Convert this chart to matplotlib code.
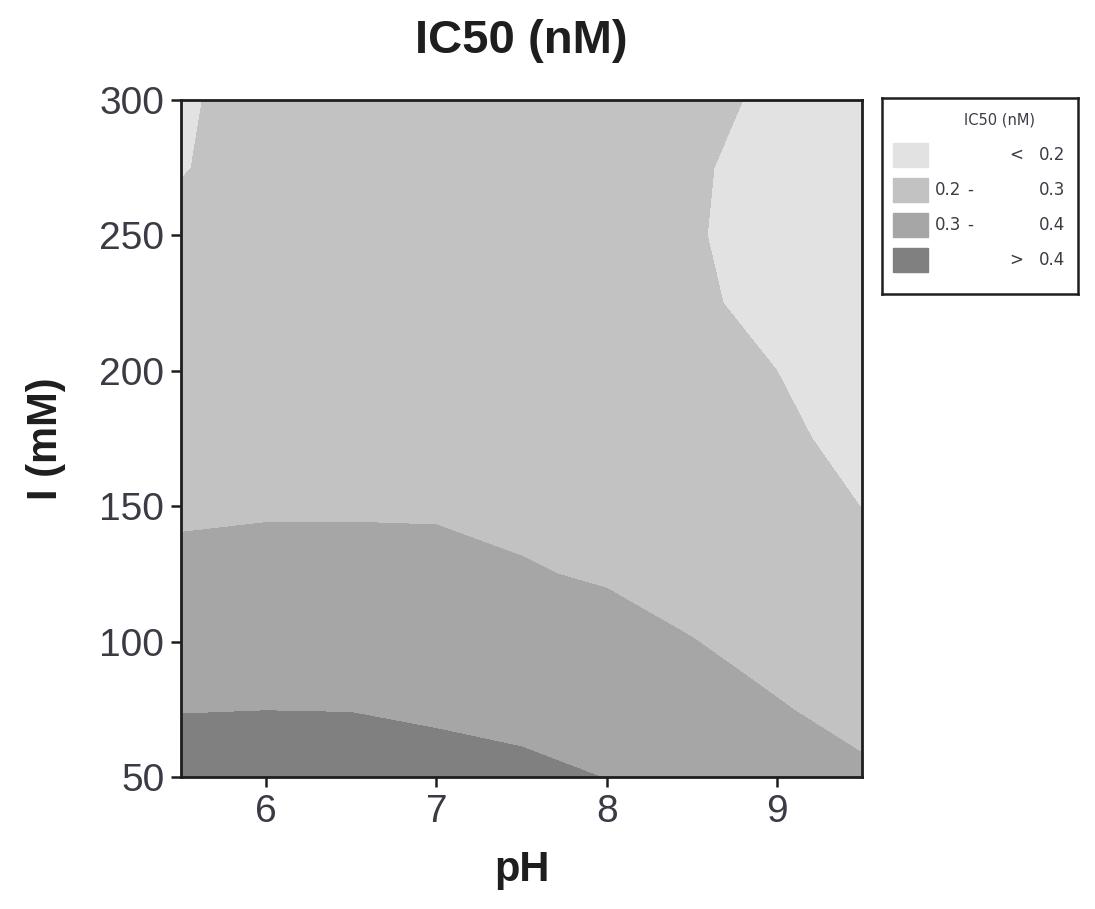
#!/usr/bin/env python3
"""Contour plot of IC50 (nM) over pH and ionic strength I (mM)."""

import matplotlib

matplotlib.use("Agg")
import matplotlib.pyplot as plt  # noqa: E402
import numpy as np  # noqa: E402

# grid
PH = [5.5, 6.0, 6.5, 7.0, 7.5, 8.0, 8.5, 9.0, 9.5]
IONIC = [50, 75, 100, 125, 150, 175, 200, 225, 250, 275, 300]
IC50 = [
    [0.440, 0.445, 0.440, 0.420, 0.412, 0.399, 0.370, 0.340, 0.312],
    [0.397, 0.399, 0.398, 0.392, 0.385, 0.363, 0.338, 0.305, 0.278],
    [0.357, 0.362, 0.362, 0.357, 0.345, 0.326, 0.302, 0.276, 0.252],
    [0.319, 0.325, 0.326, 0.321, 0.305, 0.293, 0.272, 0.255, 0.225],
    [0.288, 0.292, 0.292, 0.292, 0.286, 0.269, 0.249, 0.233, 0.199],
    [0.271, 0.275, 0.278, 0.275, 0.267, 0.251, 0.230, 0.214, 0.180],
    [0.252, 0.258, 0.262, 0.259, 0.251, 0.236, 0.216, 0.200, 0.166],
    [0.233, 0.243, 0.249, 0.247, 0.239, 0.226, 0.207, 0.188, 0.156],
    [0.214, 0.231, 0.239, 0.238, 0.231, 0.219, 0.204, 0.182, 0.150],
    [0.197, 0.222, 0.231, 0.232, 0.226, 0.216, 0.206, 0.183, 0.149],
    [0.195, 0.215, 0.226, 0.228, 0.224, 0.222, 0.215, 0.190, 0.152],
]
LEVELS = [0.1, 0.2, 0.3, 0.4, 0.5]
BAND_COLORS = ["#e2e2e2", "#c2c2c2", "#a6a6a6", "#808080"]
LEGEND_ROWS = [("", "<", "0.2"), ("0.2", "-", "0.3"), ("0.3", "-", "0.4"), ("", ">", "0.4")]
X_TICKS = [6, 7, 8, 9]
Y_TICKS = [50, 100, 150, 200, 250, 300]

INK = "#1e1e1e"
TICK_TEXT = "#3d3a45"

plt.rcParams["font.family"] = ["Liberation Sans", "DejaVu Sans"]

fig = plt.figure(figsize=(10.95, 9.09), dpi=100)
ax = fig.add_axes([181 / 1095, 1 - 777 / 909, 681 / 1095, 677 / 909])

ax.contourf(np.array(PH), np.array(IONIC), np.array(IC50),
            levels=LEVELS, colors=BAND_COLORS)
ax.set_xlim(5.5, 9.5)
ax.set_ylim(50, 300)
ax.set_xticks(X_TICKS)
ax.set_yticks(Y_TICKS)
ax.tick_params(labelsize=28, length=7, width=1.8, colors=INK,
               labelcolor=TICK_TEXT, pad=5)
for sp in ax.spines.values():
    sp.set_linewidth(2.0)
    sp.set_color(INK)

ax.set_xlabel("pH", fontsize=30, fontweight="bold", color=INK, labelpad=15)
ax.set_ylabel("I (mM)", fontsize=30, fontweight="bold", color=INK, labelpad=24)
ax.set_title("IC50 (nM)", fontsize=34, fontweight="bold", color=INK, pad=34)

# legend drawn in its own box, pixel coordinates inside the box
lg = fig.add_axes([882 / 1095, 1 - 294 / 909, 196 / 1095, 196 / 909])
lg.set_xlim(0, 196)
lg.set_ylim(196, 0)
lg.set_xticks([])
lg.set_yticks([])
for sp in lg.spines.values():
    sp.set_linewidth(1.8)
    sp.set_color(INK)
lg.text(118, 22, "IC50 (nM)", fontsize=10.5, ha="center", va="center",
        color=TICK_TEXT, family=["DejaVu Sans"])
for k, (lo, sym, hi) in enumerate(LEGEND_ROWS):
    yc = 57 + k * 35
    lg.add_patch(plt.Rectangle((11, yc - 12), 35, 24, color=BAND_COLORS[k]))
    kw = dict(fontsize=12, va="center", color=TICK_TEXT, family=["DejaVu Sans"])
    if lo:
        lg.text(53, yc, lo, ha="left", **kw)
    lg.text(134 if sym != "-" else 88, yc, sym, ha="center", **kw)
    lg.text(183, yc, hi, ha="right", **kw)

fig.savefig("out.png", dpi=100)
